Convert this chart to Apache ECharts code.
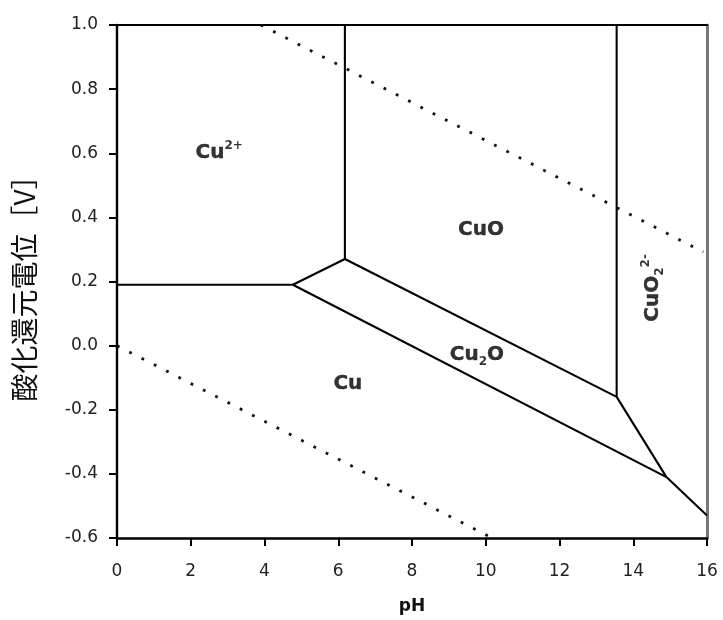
<!DOCTYPE html>
<html>
<head>
<meta charset="utf-8">
<script src="https://cdn.jsdelivr.net/npm/echarts@6/dist/echarts.min.js"></script>
<style>
  html, body { margin: 0; padding: 0; background: #fff; }
  #chart { width: 723px; height: 620px; }
</style>
</head>
<body>
<div id="chart"></div>
<script>
// Axis ranges and ticks
const xTicks = [0, 2, 4, 6, 8, 10, 12, 14, 16];
const yTicks = [-0.6, -0.4, -0.2, 0.0, 0.2, 0.4, 0.6, 0.8, 1.0];

// Phase boundaries (pH, E [V])
const cu2_cu      = [[0, 0.19], [4.77, 0.19]];
const cu2_cu2o    = [[4.77, 0.19], [6.18, 0.27]];
const cu2_cuo     = [[6.18, 0.27], [6.18, 1.0]];
const cu2o_cuo    = [[6.18, 0.27], [13.55, -0.16]];
const cuo_cuo2    = [[13.55, -0.16], [13.55, 1.0]];
const cu_cu2o     = [[4.77, 0.19], [14.9, -0.41]];
const cu2o_cuo2   = [[13.55, -0.16], [14.9, -0.41]];
const cu_cuo2     = [[14.9, -0.41], [16.0, -0.53]];

// Water stability limits (dotted)
const o2Line = [[3.9, 1.0], [15.9, 0.292]];
const h2Line = [[0, 0.0], [10.17, -0.6]];

// Region labels
const regionNames = ['Cu2+', 'CuO', 'Cu2O', 'Cu', 'CuO2 2-'];
const regionPoints = [[2.77, 0.60], [9.87, 0.36], [9.76, -0.03], [6.26, -0.12], [14.52, 0.18]];

const chart = echarts.init(document.getElementById('chart'));

const boundaries = [cu2_cu, cu2_cu2o, cu2_cuo, cu2o_cuo, cuo_cuo2, cu_cu2o, cu2o_cuo2, cu_cuo2];
const series = [];
boundaries.forEach(function (d) {
  series.push({
    type: 'line', data: d, showSymbol: false, silent: true,
    lineStyle: { color: '#000', width: 2.1 }
  });
});
[o2Line, h2Line].forEach(function (d) {
  series.push({
    type: 'line', data: d, showSymbol: false, silent: true,
    lineStyle: { color: '#111', width: 2.8, type: [2.8, 11] }
  });
});

const labelFormats = [
  '{m|Cu}{sup|2+}',
  '{m|CuO}',
  '{m|Cu}{sub|2}{m|O}',
  '{m|Cu}',
  '{m|CuO}{sub|2}{sup|2-}'
];
const rich = {
  m: { fontFamily: 'DejaVu Sans', fontWeight: 'bold', fontSize: 20, color: '#000', lineHeight: 26,
       textBorderColor: '#000', textBorderWidth: 0.4 },
  sup: { fontFamily: 'DejaVu Sans', fontWeight: 'bold', fontSize: 12, color: '#000', verticalAlign: 'top', lineHeight: 26, padding: [0, 0, 12, 0] },
  sub: { fontFamily: 'DejaVu Sans', fontWeight: 'bold', fontSize: 12, color: '#000', verticalAlign: 'bottom', lineHeight: 26, padding: [10, 0, 0, 0] }
};

series.push({
  type: 'scatter', symbolSize: 0, silent: true,
  data: regionPoints.map(function (p, i) {
    return {
      value: p, name: regionNames[i],
      label: {
        show: true, position: 'inside', formatter: labelFormats[i], color: '#000',
        rotate: i === 4 ? 90 : 0, rich: rich
      }
    };
  })
});

chart.setOption({
  animation: false,
  backgroundColor: '#fff',
  grid: { left: 117, right: 16, top: 25, bottom: 73, containLabel: false },
  xAxis: [{
    type: 'value', min: xTicks[0], max: xTicks[xTicks.length - 1], interval: 2,
    name: 'pH', nameLocation: 'middle', nameGap: 60,
    nameTextStyle: { fontFamily: 'DejaVu Sans', fontWeight: 'bold', fontSize: 17, color: '#111' },
    axisLine: { onZero: false, lineStyle: { color: '#000', width: 2.6 } },
    axisTick: { show: true, length: 8, lineStyle: { color: '#000', width: 2 } },
    axisLabel: { margin: 25, fontFamily: 'DejaVu Sans', fontSize: 17, color: '#222' },
    splitLine: { show: false }
  }, {
    type: 'value', position: 'top', min: 0, max: 16,
    axisLine: { show: true, onZero: false, lineStyle: { color: '#000', width: 2.2 } },
    axisTick: { show: false }, axisLabel: { show: false }, splitLine: { show: false }
  }],
  yAxis: [{
    type: 'value', min: yTicks[0], max: yTicks[yTicks.length - 1], interval: 0.2,
    name: '酸化還元電位［V］', nameLocation: 'middle', nameGap: 79, nameRotate: 90,
    nameTextStyle: { fontFamily: 'Noto Sans CJK JP', fontSize: 28, color: '#111' },
    axisLine: { show: true, onZero: false, lineStyle: { color: '#000', width: 2.4 } },
    axisTick: { show: true, length: 8, lineStyle: { color: '#000', width: 2 } },
    axisLabel: {
      margin: 19, fontFamily: 'DejaVu Sans', fontSize: 17, color: '#222',
      formatter: function (v) { return (Math.round(v * 10) / 10).toFixed(1); }
    },
    splitLine: { show: false }
  }, {
    type: 'value', position: 'right', min: -0.6, max: 1.0,
    axisLine: { show: true, onZero: false, lineStyle: { color: '#777', width: 3 } },
    axisTick: { show: false }, axisLabel: { show: false }, splitLine: { show: false }
  }],
  series: series
});
</script>
</body>
</html>
